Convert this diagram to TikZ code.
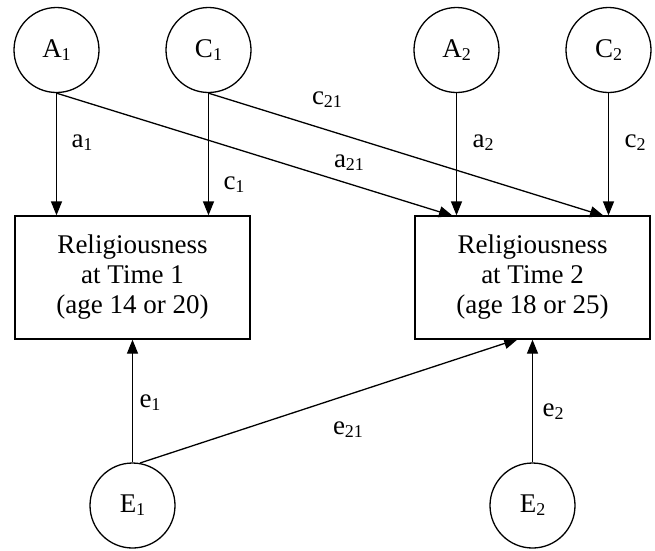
\documentclass[tikz,border=0pt]{standalone}
\usepackage{fontspec}
\setmainfont{Liberation Serif}
\usetikzlibrary{arrows.meta}
\newcommand\sbx[1]{\raisebox{-0.12em}{\fontsize{18}{18}\selectfont #1}}
\begin{document}
\begin{tikzpicture}[x=1pt,y=-1pt,
  lat/.style={draw,circle,minimum size=85pt,inner sep=0pt,line width=1.3pt,font=\fontsize{27}{30}\selectfont},
  obs/.style={draw,rectangle,minimum width=235pt,minimum height=123pt,line width=1.3pt,align=center,font=\fontsize{27}{30}\selectfont},
  pth/.style={line width=1.3pt,-{Triangle[length=14pt,width=11pt]}},
  lbl/.style={font=\fontsize{27}{30}\selectfont,inner sep=0pt}]
\useasboundingbox (0,0) rectangle (655,550);
% latent variables
\node[lat] (A1) at (56.5,50) {A\sbx{1}};
\node[lat] (C1) at (208.5,50) {C\sbx{1}};
\node[lat] (A2) at (456.5,50) {A\sbx{2}};
\node[lat] (C2) at (608.5,50) {C\sbx{2}};
\node[lat] (E1) at (132.5,505.5) {E\sbx{1}};
\node[lat] (E2) at (532.5,505.5) {E\sbx{2}};
% observed variables
\node[obs] (B1) at (132.5,277.5) {Religiousness\\at Time 1\\(age 14 or 20)};
\node[obs] (B2) at (532.5,277.5) {Religiousness\\at Time 2\\(age 18 or 25)};
% free ends
\coordinate (ta21) at (453,216);
\coordinate (tc21) at (604,216);
\coordinate (te21) at (518,339);
% paths
\draw[pth] (A1.south) -- (A1.south |- B1.north);
\draw[pth] (C1.south) -- (C1.south |- B1.north);
\draw[pth] (A2.south) -- (A2.south |- B2.north);
\draw[pth] (C2.south) -- (C2.south |- B2.north);
\draw[pth] (A1.south) -- (ta21);
\draw[pth] (C1.south) -- (tc21);
\draw[pth] (E1.north) -- (E1.north |- B1.south);
\draw[pth] (E2.north) -- (E2.north |- B2.south);
\draw[pth] (E1.80) -- (te21);
% labels
\node[lbl] (la1) at (82,143) {a\sbx{1}};
\node[lbl] (lc1) at (234,185) {c\sbx{1}};
\node[lbl] (lc21) at (327,100) {c\sbx{21}};
\node[lbl] (la21) at (349,163) {a\sbx{21}};
\node[lbl] (la2) at (483,143) {a\sbx{2}};
\node[lbl] (lc2) at (635,143) {c\sbx{2}};
\node[lbl] (le1) at (150,403) {e\sbx{1}};
\node[lbl] (le21) at (348,430) {e\sbx{21}};
\node[lbl] (le2) at (553,412) {e\sbx{2}};
\end{tikzpicture}
\end{document}
